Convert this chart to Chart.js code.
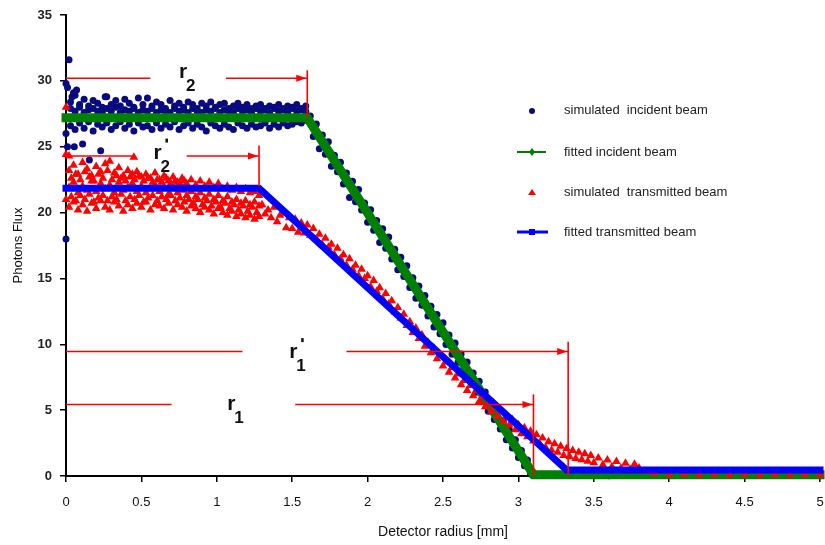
<!DOCTYPE html>
<html>
<head>
<meta charset="utf-8">
<script src="https://cdn.jsdelivr.net/npm/chart.js@4"></script>
<style>
  body { margin: 0; background: #fff; }
  #wrap { width: 825px; height: 545px; }
</style>
</head>
<body>
<div id="wrap"><canvas id="chart" width="825" height="545"></canvas></div>
<script>
// simulated incident beam [radius, flux]
const simIncident = [
  [0, 18.0], [0, 26.0], [0, 29.8], [0.01, 29.5], [0.01, 25.0], [0.02, 31.6], [0.04, 28.8], [0.05, 29.1],
  [0.055, 25.0], [0.07, 29.3], [0.11, 25.2], [0.155, 24.0], [0.23, 24.7], [0.26, 28.8],
  [0.03, 28.4], [0.03, 27.9], [0.03, 26.6], [0.06, 28.9], [0.06, 27.7], [0.06, 26.3],
  [0.09, 28.2], [0.09, 28.0], [0.09, 26.8], [0.12, 28.6], [0.12, 27.6], [0.12, 26.4],
  [0.15, 28.1], [0.15, 27.8], [0.15, 26.9], [0.18, 28.5], [0.18, 27.9], [0.18, 26.2],
  [0.21, 28.3], [0.21, 27.7], [0.21, 26.7], [0.24, 28.0], [0.24, 27.6], [0.24, 26.5],
  [0.27, 28.8], [0.27, 27.9], [0.27, 26.8], [0.3, 28.2], [0.3, 27.7], [0.3, 26.3],
  [0.33, 28.5], [0.33, 28.0], [0.33, 26.6], [0.36, 28.1], [0.36, 27.6], [0.36, 26.9],
  [0.39, 28.6], [0.39, 27.8], [0.39, 26.4], [0.42, 28.3], [0.42, 27.7], [0.42, 26.7],
  [0.45, 28.0], [0.45, 27.9], [0.45, 26.2], [0.48, 28.7], [0.48, 27.6], [0.48, 26.8],
  [0.51, 28.2], [0.51, 27.8], [0.51, 26.5], [0.54, 28.7], [0.54, 27.7], [0.54, 26.6],
  [0.57, 28.1], [0.57, 27.9], [0.57, 26.3], [0.6, 28.4], [0.6, 27.6], [0.6, 26.8],
  [0.63, 28.2], [0.63, 27.8], [0.63, 26.4], [0.66, 27.9], [0.66, 27.7], [0.66, 26.7],
  [0.69, 28.5], [0.69, 27.6], [0.69, 26.5], [0.72, 28.1], [0.72, 27.9], [0.72, 26.9],
  [0.75, 28.3], [0.75, 27.7], [0.75, 26.3], [0.78, 28.0], [0.78, 27.8], [0.78, 26.6],
  [0.81, 28.4], [0.81, 27.6], [0.81, 26.8], [0.84, 28.2], [0.84, 27.9], [0.84, 26.4],
  [0.87, 27.9], [0.87, 27.7], [0.87, 26.7], [0.9, 28.3], [0.9, 27.6], [0.9, 26.5],
  [0.93, 28.1], [0.93, 27.8], [0.93, 26.2], [0.96, 28.4], [0.96, 27.7], [0.96, 26.8],
  [0.99, 28.0], [0.99, 27.9], [0.99, 26.6], [1.02, 28.2], [1.02, 27.6], [1.02, 26.4],
  [1.05, 28.3], [1.05, 27.8], [1.05, 26.7], [1.08, 27.9], [1.08, 27.7], [1.08, 26.5],
  [1.11, 28.1], [1.11, 27.6], [1.11, 26.3], [1.14, 28.3], [1.14, 27.9], [1.14, 26.8],
  [1.17, 28.0], [1.17, 27.7], [1.17, 26.6], [1.2, 28.2], [1.2, 27.8], [1.2, 26.4],
  [1.23, 27.9], [1.23, 27.6], [1.23, 26.7], [1.26, 28.1], [1.26, 27.9], [1.26, 26.5],
  [1.29, 28.2], [1.29, 27.7], [1.29, 26.6], [1.32, 27.9], [1.32, 27.8], [1.32, 26.8],
  [1.35, 28.1], [1.35, 27.6], [1.35, 26.4], [1.38, 28.0], [1.38, 27.9], [1.38, 26.7],
  [1.41, 28.2], [1.41, 27.7], [1.41, 26.5], [1.44, 27.9], [1.44, 27.8], [1.44, 26.8],
  [1.47, 28.1], [1.47, 27.6], [1.47, 26.6], [1.5, 28.0], [1.5, 27.9], [1.5, 26.7],
  [1.53, 28.2], [1.53, 27.7], [1.53, 26.9], [1.56, 27.9], [1.56, 27.8], [1.56, 26.8],
  [1.59, 28.1], [1.59, 27.7], [1.59, 27.0],
  [1.62, 27.34], [1.64, 25.78], [1.66, 26.72], [1.68, 24.85], [1.7, 25.89], [1.72, 24.43], [1.74, 25.37],
  [1.76, 23.51], [1.78, 24.35], [1.8, 23.09], [1.82, 23.82], [1.84, 22.16], [1.86, 23.0], [1.88, 21.14],
  [1.9, 22.38], [1.92, 20.82], [1.94, 21.76], [1.96, 20.19], [1.98, 20.73], [2.0, 19.27], [2.02, 20.21],
  [2.04, 18.65], [2.06, 19.39], [2.08, 17.73], [2.1, 18.77], [2.12, 17.3], [2.14, 18.14], [2.16, 16.48],
  [2.18, 17.22], [2.2, 15.66], [2.22, 16.6], [2.24, 15.14], [2.26, 15.97], [2.28, 14.31], [2.3, 15.05],
  [2.32, 13.49], [2.34, 14.43], [2.36, 12.97], [2.38, 13.71], [2.4, 12.14], [2.42, 12.88], [2.44, 11.32],
  [2.46, 12.26], [2.48, 10.8], [2.5, 11.64], [2.52, 9.98], [2.54, 10.71], [2.56, 9.25], [2.58, 10.09],
  [2.6, 8.63], [2.62, 9.27], [2.64, 7.71], [2.66, 8.65], [2.68, 7.18], [2.7, 7.82], [2.72, 6.36],
  [2.74, 7.2], [2.76, 5.74], [2.78, 6.38], [2.8, 4.92], [2.82, 5.65], [2.84, 4.29], [2.86, 5.03],
  [2.88, 3.57], [2.9, 4.21], [2.92, 2.75], [2.94, 3.49], [2.96, 2.13], [2.98, 2.76], [3.0, 1.4],
  [3.02, 1.94], [3.04, 0.78], [3.06, 1.22], [3.08, 0.16], [3.1, 0.1],
  [3.3, 0.05], [3.6, 0.02], [4.0, 0.04], [4.5, 0.03], [5.0, 0.02]
];

// simulated transmitted beam [radius, flux]
const simTransmitted = [
  [0, 28.0], [0, 24.4], [0, 21.0], [0.02, 24.3], [0.45, 24.2],
  [0.02, 23.2], [0.02, 21.9], [0.02, 20.4], [0.05, 23.6], [0.05, 22.3], [0.05, 20.8],
  [0.08, 22.9], [0.08, 21.5], [0.08, 20.2], [0.11, 23.8], [0.11, 22.0], [0.11, 20.6],
  [0.14, 23.3], [0.14, 21.7], [0.14, 20.1], [0.17, 22.8], [0.17, 22.4], [0.17, 20.7],
  [0.2, 23.5], [0.2, 21.6], [0.2, 20.3], [0.23, 23.1], [0.23, 22.2], [0.23, 20.9],
  [0.26, 23.7], [0.26, 21.8], [0.26, 20.4], [0.29, 23.9], [0.29, 22.1], [0.29, 20.2],
  [0.32, 23.0], [0.32, 21.5], [0.32, 20.8], [0.35, 23.4], [0.35, 22.3], [0.35, 20.5],
  [0.38, 22.8], [0.38, 21.7], [0.38, 20.1], [0.41, 23.2], [0.41, 21.9], [0.41, 20.6],
  [0.44, 22.9], [0.44, 22.2], [0.44, 20.3], [0.47, 23.1], [0.47, 21.6], [0.47, 20.7],
  [0.5, 22.7], [0.5, 22.0], [0.5, 20.4], [0.53, 22.9], [0.53, 21.5], [0.53, 20.8],
  [0.56, 22.6], [0.56, 21.8], [0.56, 20.2], [0.59, 23.0], [0.59, 22.1], [0.59, 20.6],
  [0.62, 22.5], [0.62, 21.6], [0.62, 20.5], [0.65, 22.8], [0.65, 21.9], [0.65, 20.3],
  [0.68, 22.4], [0.68, 21.4], [0.68, 20.7], [0.71, 22.7], [0.71, 21.8], [0.71, 20.2],
  [0.74, 22.3], [0.74, 21.5], [0.74, 20.6], [0.77, 22.6], [0.77, 21.7], [0.77, 20.4],
  [0.8, 22.2], [0.8, 21.3], [0.8, 20.1], [0.83, 22.5], [0.83, 21.6], [0.83, 20.5],
  [0.86, 22.1], [0.86, 21.2], [0.86, 20.3], [0.89, 22.4], [0.89, 21.5], [0.89, 20.0],
  [0.92, 22.0], [0.92, 21.1], [0.92, 20.4], [0.95, 22.3], [0.95, 21.4], [0.95, 20.2],
  [0.98, 21.9], [0.98, 21.0], [0.98, 19.9], [1.01, 22.2], [1.01, 21.3], [1.01, 20.3],
  [1.04, 21.8], [1.04, 20.9], [1.04, 20.0], [1.07, 22.0], [1.07, 21.2], [1.07, 19.8],
  [1.1, 21.7], [1.1, 20.8], [1.1, 20.1], [1.13, 21.9], [1.13, 21.0], [1.13, 19.7],
  [1.16, 21.6], [1.16, 20.7], [1.16, 19.9], [1.19, 21.8], [1.19, 20.9], [1.19, 19.6],
  [1.22, 21.5], [1.22, 20.6], [1.22, 19.8], [1.25, 21.6], [1.25, 20.8], [1.25, 19.5],
  [1.28, 21.3], [1.28, 20.5], [1.28, 19.7],
  [0.035, 21.2], [0.035, 22.6], [0.065, 20.9], [0.065, 22.9], [0.095, 21.3], [0.095, 22.5],
  [0.125, 21.0], [0.125, 23.1], [0.155, 21.4], [0.155, 22.7], [0.185, 20.8], [0.185, 22.4],
  [0.215, 21.1], [0.215, 22.9], [0.245, 21.3], [0.245, 22.6], [0.275, 20.9], [0.275, 23.2],
  [0.305, 21.2], [0.305, 22.5], [0.335, 21.0], [0.335, 22.8], [0.365, 21.4], [0.365, 22.6],
  [0.395, 20.9], [0.395, 22.4], [0.425, 21.2], [0.425, 22.7], [0.455, 21.0], [0.455, 22.5],
  [0.485, 21.3], [0.485, 22.8], [0.515, 20.8], [0.515, 22.4], [0.545, 21.1], [0.545, 22.6],
  [0.575, 21.3], [0.575, 22.3], [0.605, 20.9], [0.605, 22.5], [0.635, 21.2], [0.635, 22.3],
  [0.665, 21.0], [0.665, 22.6], [0.695, 21.3], [0.695, 22.2], [0.725, 20.9], [0.725, 22.4],
  [0.755, 21.1], [0.755, 22.2], [0.785, 20.8], [0.785, 22.4], [0.815, 21.0], [0.845, 20.7],
  [0.875, 21.0], [0.905, 20.6], [0.935, 20.9], [0.965, 20.5], [0.995, 20.8], [1.025, 20.4],
  [1.055, 20.7], [1.085, 20.3], [1.115, 20.6], [1.145, 20.2], [1.175, 20.5], [1.205, 20.1],
  [1.235, 20.4], [1.265, 20.0],
  [1.3, 20.6], [1.32, 19.9], [1.34, 20.2], [1.36, 19.6], [1.38, 20.4], [1.4, 19.3], [1.42, 19.8],
  [1.44, 19.95], [1.46, 18.85], [1.48, 19.6], [1.5, 18.8], [1.52, 19.5], [1.54, 18.5], [1.56, 19.2],
  [1.58, 18.45], [1.6, 19.05], [1.62, 18.27], [1.64, 18.8], [1.66, 18.0], [1.68, 18.35], [1.7, 17.55],
  [1.72, 18.05], [1.74, 17.37], [1.76, 17.6], [1.78, 16.8], [1.8, 17.3], [1.82, 16.5], [1.84, 16.8],
  [1.86, 16.0], [1.88, 16.5], [1.9, 15.7], [1.92, 16.0], [1.94, 15.2], [1.96, 15.7], [1.98, 15.0],
  [2.0, 15.2], [2.02, 14.37], [2.04, 14.84], [2.06, 14.0], [2.08, 14.3], [2.1, 13.45], [2.12, 13.85],
  [2.14, 13.05], [2.16, 13.3], [2.18, 12.45], [2.2, 12.8], [2.22, 11.99], [2.24, 12.28], [2.26, 11.42],
  [2.28, 11.71], [2.3, 10.9], [2.32, 11.24], [2.34, 10.43], [2.36, 10.72], [2.38, 9.86], [2.4, 10.15],
  [2.42, 9.35], [2.44, 9.7], [2.46, 8.9], [2.48, 9.2], [2.5, 8.35], [2.52, 8.66], [2.54, 7.87],
  [2.56, 8.23], [2.58, 7.44], [2.6, 7.75], [2.62, 6.93], [2.64, 7.26], [2.66, 6.49], [2.68, 6.87],
  [2.7, 6.1], [2.72, 6.45], [2.74, 5.65], [2.76, 6.0], [2.78, 5.25], [2.8, 5.65], [2.82, 4.92],
  [2.84, 5.29], [2.86, 4.51], [2.88, 4.88], [2.9, 4.15], [2.92, 4.59], [2.94, 3.88], [2.96, 4.27],
  [2.98, 3.51], [3.0, 3.9], [3.02, 3.21], [3.04, 3.67], [3.06, 2.98], [3.08, 3.39], [3.1, 2.65],
  [3.12, 3.13], [3.14, 2.46], [3.16, 2.89], [3.18, 2.17], [3.2, 2.6], [3.22, 1.95], [3.24, 2.45],
  [3.26, 1.8], [3.28, 2.25], [3.3, 1.55], [3.32, 2.08], [3.34, 1.46], [3.36, 1.94], [3.38, 1.32],
  [3.4, 1.8], [3.42, 1.24], [3.44, 1.68], [3.46, 1.12], [3.48, 1.56], [3.5, 1.0], [3.53, 1.37],
  [3.56, 0.85], [3.59, 1.22], [3.62, 0.71], [3.65, 1.1], [3.68, 0.59], [3.71, 0.97], [3.74, 0.49],
  [3.77, 0.89], [3.8, 0.6], [3.85, 0.35], [3.9, 0.2], [4.0, 0.12], [4.1, 0.15], [4.2, 0.1],
  [4.3, 0.14], [4.4, 0.1], [4.5, 0.13], [4.6, 0.1], [4.7, 0.12], [4.8, 0.1], [4.9, 0.12], [5.0, 0.1]
];

// fitted profiles (break points)
const fitIncidentX = [0, 1.6, 3.1, 5];
const fitIncidentY = [27.2, 27.2, 0.1, 0.1];
const fitTransmittedX = [0, 1.28, 3.32, 5];
const fitTransmittedY = [21.85, 21.85, 0.45, 0.45];

const xTicks = [0, 0.5, 1, 1.5, 2, 2.5, 3, 3.5, 4, 4.5, 5];
const yTicks = [0, 5, 10, 15, 20, 25, 30, 35];

const legendLabels = [
  "simulated  incident beam",
  "fitted incident beam",
  "simulated  transmitted beam",
  "fitted transmitted beam"
];

// r markers: level, line pieces, end of arrow, vertical extent, label
const markers = [
  { y: 30.2, pieces: [[0, 0.56], [1.06, 1.6]], end: 1.6, vLow: 27.2, vHigh: 30.8, sub: "2", prime: false, lx: 0.75, ly: 30.25 },
  { y: 24.3, pieces: [[0, 0.45], [0.8, 1.28]], end: 1.28, vLow: 22.0, vHigh: 25.1, sub: "2", prime: true, lx: 0.58, ly: 24.1 },
  { y: 9.45, pieces: [[0, 1.17], [1.86, 3.33]], end: 3.33, vLow: 0, vHigh: 10.2, sub: "1", prime: true, lx: 1.48, ly: 8.95 },
  { y: 5.43, pieces: [[0, 0.7], [1.52, 3.1]], end: 3.1, vLow: 0, vHigh: 6.2, sub: "1", prime: false, lx: 1.07, ly: 5.0 }
];

const FONT = "'Liberation Sans', Arial, sans-serif";

const toPoints = (xs, ys) => xs.map((x, i) => ({ x: x, y: ys[i] }));
const pairPoints = (arr) => arr.map(p => ({ x: p[0], y: p[1] }));

const markerPlugin = {
  id: "markers",
  afterDatasetsDraw(chart) {
    const ctx = chart.ctx;
    const xs = chart.scales.x, ys = chart.scales.y;
    ctx.save();
    ctx.strokeStyle = "#ff0000";
    ctx.fillStyle = "#ff0000";
    ctx.lineWidth = 1.6;
    markers.forEach(m => {
      const py = ys.getPixelForValue(m.y);
      m.pieces.forEach(p => {
        ctx.beginPath();
        ctx.moveTo(xs.getPixelForValue(p[0]), py);
        ctx.lineTo(xs.getPixelForValue(p[1]), py);
        ctx.stroke();
      });
      const ex = xs.getPixelForValue(m.end);
      ctx.beginPath();
      ctx.moveTo(ex, ys.getPixelForValue(m.vLow));
      ctx.lineTo(ex, ys.getPixelForValue(m.vHigh));
      ctx.stroke();
      ctx.beginPath();
      ctx.moveTo(ex - 1, py);
      ctx.lineTo(ex - 11, py - 3.5);
      ctx.lineTo(ex - 11, py + 3.5);
      ctx.closePath();
      ctx.fill();
    });
    ctx.fillStyle = "#111";
    markers.forEach(m => {
      const lx = xs.getPixelForValue(m.lx);
      const ly = ys.getPixelForValue(m.ly);
      ctx.font = "bold 21px " + FONT;
      ctx.textBaseline = "alphabetic";
      ctx.fillText("r", lx, ly);
      ctx.font = "bold 17px " + FONT;
      ctx.fillText(m.sub, lx + 7, ly + 13);
      if (m.prime) {
        ctx.fillRect(lx + 12, ly - 20, 2.5, 4);
      }
    });
    ctx.restore();
  },
  afterDraw(chart) {
    const ctx = chart.ctx;
    const a = chart.chartArea;
    const sx = a.left + 466, tx = a.left + 498;
    const rows = [a.top + 95, a.top + 137, a.top + 177, a.top + 217];
    ctx.save();
    // navy dot
    ctx.fillStyle = "#0a0a80";
    ctx.beginPath(); ctx.arc(sx, rows[0] + 1, 3, 0, Math.PI * 2); ctx.fill();
    // green line with diamond
    ctx.strokeStyle = "#008000"; ctx.lineWidth = 2;
    ctx.beginPath(); ctx.moveTo(sx - 15, rows[1]); ctx.lineTo(sx + 14, rows[1]); ctx.stroke();
    ctx.fillStyle = "#008000";
    ctx.beginPath(); ctx.moveTo(sx, rows[1] - 4); ctx.lineTo(sx + 3, rows[1]); ctx.lineTo(sx, rows[1] + 4); ctx.lineTo(sx - 3, rows[1]); ctx.closePath(); ctx.fill();
    // red triangle
    ctx.fillStyle = "#ff0000";
    ctx.beginPath(); ctx.moveTo(sx, rows[2] - 3); ctx.lineTo(sx + 4, rows[2] + 3); ctx.lineTo(sx - 4, rows[2] + 3); ctx.closePath(); ctx.fill();
    // blue line with square
    ctx.strokeStyle = "#0000ff"; ctx.lineWidth = 3;
    ctx.beginPath(); ctx.moveTo(sx - 15, rows[3]); ctx.lineTo(sx + 16, rows[3]); ctx.stroke();
    ctx.fillStyle = "#0000ff";
    ctx.fillRect(sx - 3, rows[3] - 3, 6, 6);
    ctx.fillStyle = "#222";
    ctx.font = "13px " + FONT;
    ctx.textBaseline = "middle";
    legendLabels.forEach((t, i) => ctx.fillText(t, tx, rows[i]));
    ctx.restore();
  }
};

const ctx = document.getElementById("chart");

new Chart(ctx, {
  type: "scatter",
  data: {
    datasets: [
      {
        label: "fitted transmitted beam",
        type: "line",
        data: toPoints(fitTransmittedX, fitTransmittedY),
        borderColor: "#0000ff",
        borderWidth: 7,
        borderCapStyle: "square",
        pointRadius: 0,
        fill: false,
        clip: false,
        order: 0
      },
      {
        label: "simulated transmitted beam",
        data: pairPoints(simTransmitted),
        pointStyle: "triangle",
        pointRadius: 5,
        backgroundColor: "#ff0000",
        borderWidth: 0,
        clip: false,
        order: 1
      },
      {
        label: "fitted incident beam",
        type: "line",
        data: toPoints(fitIncidentX, fitIncidentY),
        borderColor: "#008000",
        borderWidth: 9,
        borderCapStyle: "square",
        pointRadius: 0,
        fill: false,
        clip: false,
        order: 2
      },
      {
        label: "simulated incident beam",
        data: pairPoints(simIncident),
        pointRadius: 3.5,
        backgroundColor: "#0a0a80",
        borderWidth: 0,
        clip: false,
        order: 3
      }
    ]
  },
  options: {
    responsive: false,
    animation: false,
    layout: { padding: { top: 15, right: 3, left: 0, bottom: 0 } },
    plugins: { legend: { display: false }, tooltip: { enabled: false } },
    scales: {
      x: {
        type: "linear",
        min: 0,
        max: 5,
        afterBuildTicks: (s) => { s.ticks = xTicks.map(v => ({ value: v })); },
        afterFit: (s) => { s.height = 69; s.paddingLeft = 0; s.paddingRight = 0; },
        grid: { drawOnChartArea: false, tickLength: 6, color: "#000", lineWidth: 1.5 },
        border: { color: "#000", width: 2 },
        ticks: { color: "#111", padding: 13, callback: (v) => String(v), font: { size: 13, family: FONT } },
        title: { display: true, text: "Detector radius [mm]", color: "#111", padding: { top: 4 }, font: { size: 14, family: FONT } }
      },
      y: {
        type: "linear",
        min: 0,
        max: 35,
        afterBuildTicks: (s) => { s.ticks = yTicks.map(v => ({ value: v })); },
        afterFit: (s) => { s.width = 66; s.paddingTop = 0; s.paddingBottom = 0; },
        grid: { drawOnChartArea: false, tickLength: 6, color: "#000", lineWidth: 1.5 },
        border: { color: "#000", width: 2 },
        ticks: { color: "#222", padding: 8, font: { size: 13, weight: "bold", family: "'Liberation Sans Narrow', " + FONT } },
        title: { display: true, text: "Photons Flux", color: "#111", padding: { top: 11 }, font: { size: 13, family: FONT } }
      }
    }
  },
  plugins: [markerPlugin]
});
</script>
</body>
</html>
